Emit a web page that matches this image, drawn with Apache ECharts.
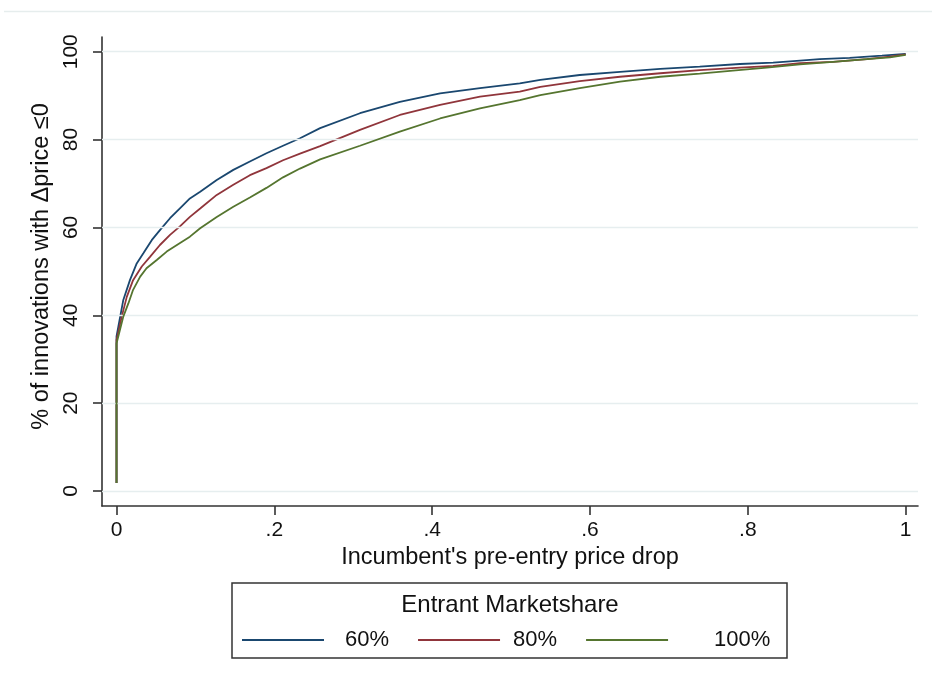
<!DOCTYPE html>
<html>
<head>
<meta charset="utf-8">
<script src="https://cdn.jsdelivr.net/npm/echarts@6/dist/echarts.min.js"></script>
<style>
html,body{margin:0;padding:0;background:#fff;}
#chart{width:932px;height:683px;}
</style>
</head>
<body>
<div id="chart"></div>
<script>
// ---- data ----
const seriesNames = ['60%', '80%', '100%'];

const x60 = [0, 0, 0.0023, 0.0086, 0.017, 0.0256, 0.034, 0.0446, 0.055, 0.0678, 0.080, 0.093, 0.106, 0.127, 0.148, 0.169, 0.190, 0.211, 0.2325, 0.258, 0.3085, 0.359, 0.41, 0.4606, 0.511, 0.537, 0.587, 0.638, 0.689, 0.739, 0.79, 0.832, 0.862, 0.891, 0.929, 0.97, 1.0];
const y60 = [1.8, 35.2, 37.4, 43.5, 48.0, 51.8, 54.1, 57.1, 59.4, 62.1, 64.3, 66.6, 68.1, 70.8, 73.1, 75.0, 76.9, 78.6, 80.3, 82.6, 86.0, 88.6, 90.5, 91.7, 92.8, 93.6, 94.7, 95.4, 96.1, 96.6, 97.2, 97.5, 97.9, 98.3, 98.6, 99.1, 99.5];

const x80 = [0, 0, 0.0066, 0.013, 0.021, 0.032, 0.0424, 0.055, 0.0678, 0.080, 0.093, 0.106, 0.127, 0.148, 0.169, 0.190, 0.211, 0.2325, 0.258, 0.3085, 0.359, 0.41, 0.4606, 0.511, 0.537, 0.587, 0.638, 0.689, 0.739, 0.79, 0.832, 0.866, 0.908, 0.951, 0.98, 1.0];
const y80 = [1.8, 34.4, 39.7, 44.2, 48.0, 51.1, 53.3, 56.0, 58.3, 60.2, 62.4, 64.3, 67.4, 69.7, 71.9, 73.5, 75.3, 76.8, 78.5, 82.2, 85.6, 87.9, 89.8, 90.9, 92.0, 93.3, 94.3, 95.1, 95.8, 96.4, 96.8, 97.4, 97.7, 98.3, 98.9, 99.4];

const x100 = [0, 0, 0.0086, 0.015, 0.021, 0.030, 0.038, 0.051, 0.0636, 0.080, 0.093, 0.106, 0.127, 0.148, 0.169, 0.190, 0.211, 0.2325, 0.258, 0.3085, 0.359, 0.41, 0.4606, 0.511, 0.537, 0.587, 0.638, 0.689, 0.739, 0.781, 0.824, 0.866, 0.908, 0.951, 0.98, 1.0];
const y100 = [1.8, 33.6, 39.7, 42.7, 45.8, 48.8, 50.7, 52.6, 54.5, 56.4, 57.9, 59.8, 62.4, 64.7, 66.8, 69.0, 71.4, 73.4, 75.5, 78.6, 81.8, 84.8, 87.1, 89.0, 90.1, 91.7, 93.2, 94.3, 95.0, 95.7, 96.4, 97.1, 97.7, 98.3, 98.7, 99.3];

const xTicks = [0, 0.2, 0.4, 0.6, 0.8, 1];
const xTickLabels = ['0', '.2', '.4', '.6', '.8', '1'];
const yTicks = [0, 20, 40, 60, 80, 100];
const yTickLabels = ['0', '20', '40', '60', '80', '100'];

const xTitle = "Incumbent's pre-entry price drop";
const yTitle = '% of innovations with \u0394price \u22640';
const legendTitle = 'Entrant Marketshare';

// ---- chart ----
const FONT = '"Liberation Sans", Arial, sans-serif';
const colors = ['#1a476f', '#90353b', '#55752f'];
const toPairs = (xs, ys) => xs.map((x, i) => [x, ys[i]]);
const seriesData = [toPairs(x60, y60), toPairs(x80, y80), toPairs(x100, y100)];

const chart = echarts.init(document.getElementById('chart'), null, {renderer: 'canvas'});

const series = seriesNames.map((n, i) => ({
  name: n,
  type: 'line',
  data: seriesData[i],
  symbol: 'none',
  showSymbol: false,
  smooth: false,
  z: 3 + i,
  lineStyle: {color: colors[i], width: 1.8},
  itemStyle: {color: colors[i]},
  animation: false
}));

// gridlines drawn as mark lines at the y tick values
series.unshift({
  name: '_grid',
  type: 'line',
  data: [],
  z: 1,
  silent: true,
  markLine: {
    silent: true,
    symbol: ['none', 'none'],
    label: {show: false},
    animation: false,
    lineStyle: {color: '#e6eeef', width: 1.3, type: 'solid'},
    data: yTicks.map(v => ({yAxis: v}))
  }
});

// per-item label spacing in the legend row
const legendPads = [[0, 0, 0, 16], [0, 0, 0, 8], [0, 0, 0, 41]];

const option = {
  backgroundColor: '#ffffff',
  animation: false,
  color: colors,
  textStyle: {fontFamily: FONT},
  grid: {left: 102, top: 37, width: 816, height: 469, containLabel: false},
  xAxis: {
    type: 'value',
    min: -0.0184,
    max: 1.0156,
    name: xTitle,
    nameLocation: 'middle',
    nameGap: 33,
    nameTextStyle: {fontFamily: FONT, fontSize: 23.5, color: '#111'},
    axisLine: {show: true, onZero: false, lineStyle: {color: '#333', width: 1.6}},
    axisTick: {show: true, length: 9, inside: false, customValues: xTicks, lineStyle: {color: '#333', width: 1.6}},
    axisLabel: {
      show: true, customValues: xTicks, margin: 14,
      fontFamily: FONT, fontSize: 21, color: '#111',
      formatter: v => { const i = xTicks.findIndex(t => Math.abs(t - v) < 1e-6); return i >= 0 ? xTickLabels[i] : ''; }
    },
    splitLine: {show: false}
  },
  yAxis: {
    type: 'value',
    min: -3.41,
    max: 103.35,
    name: yTitle,
    nameLocation: 'middle',
    nameGap: 41,
    nameRotate: 90,
    nameTextStyle: {fontFamily: FONT, fontSize: 23.5, color: '#111', padding: [0, 0, 0, 10]},
    axisLine: {show: true, onZero: false, lineStyle: {color: '#333', width: 1.6}},
    axisTick: {show: true, length: 9, inside: false, customValues: yTicks, lineStyle: {color: '#333', width: 1.6}},
    axisLabel: {
      show: true, customValues: yTicks, rotate: 90, margin: 20,
      fontFamily: FONT, fontSize: 21, color: '#111',
      formatter: v => { const i = yTicks.findIndex(t => Math.abs(t - v) < 1e-6); return i >= 0 ? yTickLabels[i] : ''; }
    },
    splitLine: {show: false}
  },
  legend: {
    data: seriesNames.map((n, i) => ({name: n, textStyle: {padding: legendPads[i]}})),
    left: 237,
    top: 624,
    itemWidth: 82,
    itemHeight: 2,
    itemGap: 29,
    icon: 'rect',
    textStyle: {fontFamily: FONT, fontSize: 22, color: '#111'},
    selectedMode: false
  },
  graphic: [
    {type: 'line', z: -1, silent: true, shape: {x1: 4, y1: 11.5, x2: 932, y2: 11.5}, style: {stroke: '#e6eded', lineWidth: 1.5}},
    {type: 'rect', z: -1, silent: true, shape: {x: 232, y: 583, width: 555, height: 75}, style: {fill: '#fff', stroke: '#333', lineWidth: 1.5}},
    {type: 'text', silent: true, x: 510, y: 605, style: {text: legendTitle, font: '24px ' + FONT, fill: '#111', align: 'center', verticalAlign: 'middle'}}
  ],
  series: series
};
chart.setOption(option);
</script>
</body>
</html>
